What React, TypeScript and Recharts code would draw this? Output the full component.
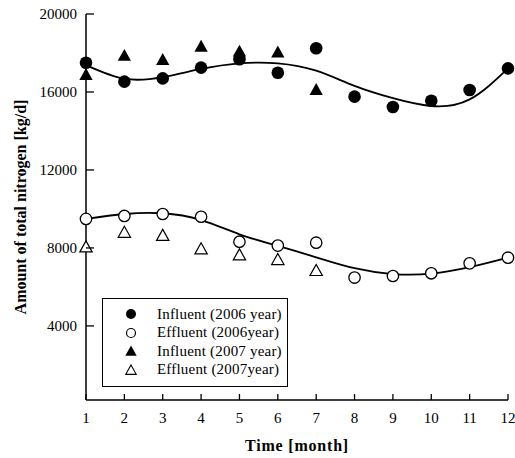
import React from "react";
import { ComposedChart, Scatter, Line, XAxis, YAxis, Legend } from "recharts";

// Total nitrogen load per month [kg/d]
const months = [1, 2, 3, 4, 5, 6, 7, 8, 9, 10, 11, 12];
const inf2006 = [17500, 16530, 16700, 17250, 17680, 16990, 18240, 15760, 15230, 15550, 16100, 17210];
const eff2006 = [9490, 9640, 9740, 9600, 8320, 8120, 8270, 6480, 6560, 6700, 7210, 7500];
const inf2007 = [16870, 17850, 17640, 18320, 18070, 18020, 16100];
const eff2007 = [8030, 8780, 8620, 7930, 7620, 7380, 6820];
// fitted trend curves
const infTrend = [17380, 16680, 16760, 17180, 17470, 17470, 17090, 16310, 15680, 15280, 15620, 17210];
const effTrend = [9490, 9740, 9780, 9430, 8700, 8100, 7520, 6960, 6660, 6680, 7010, 7500];

const yTicks = [4000, 8000, 12000, 16000, 20000];

const FONT = "'Liberation Serif', 'Times New Roman', serif";

const toPoints = (vals: number[]) => vals.map((v, i) => ({ month: months[i], value: v }));

const FilledCircle = (p: any) => <circle cx={p.cx} cy={p.cy} r={6.3} fill="#000" />;
const OpenCircle = (p: any) => (
  <circle cx={p.cx} cy={p.cy} r={5.7} fill="#fff" stroke="#000" strokeWidth={1.3} />
);
const tri = (cx: number, cy: number, s: number) =>
  `${cx},${cy - s} ${cx + s * 0.95},${cy + s * 0.7} ${cx - s * 0.95},${cy + s * 0.7}`;
const FilledTriangle = (p: any) => <polygon points={tri(p.cx, p.cy, 7)} fill="#000" />;
const OpenTriangle = (p: any) => (
  <polygon points={tri(p.cx, p.cy, 6.5)} fill="#fff" stroke="#000" strokeWidth={1.2} />
);

const YTick = (props: any) => {
  const { x, y, payload } = props;
  return (
    <g>
      <line x1={x + 9} x2={x + 17} y1={y} y2={y} stroke="#000" strokeWidth={1.3} />
      <text x={x} y={y} textAnchor="end" dominantBaseline="central" fontSize={15} fontFamily={FONT} fill="#000">
        {payload.value}
      </text>
    </g>
  );
};

const XTick = (props: any) => {
  const { x, y, payload } = props;
  return (
    <g>
      <line x1={x} x2={x} y1={y - 12} y2={y - 18} stroke="#000" strokeWidth={1.3} />
      <text x={x} y={y} dy="0.71em" textAnchor="middle" fontSize={15} fontFamily={FONT} fill="#000">
        {payload.value}
      </text>
    </g>
  );
};

const legendItems = [
  { label: "Influent (2006 year)", kind: "fc" },
  { label: "Effluent (2006year)", kind: "oc" },
  { label: "Influent (2007 year)", kind: "ft" },
  { label: "Effluent (2007year)", kind: "ot" },
];

const LegendIcon = ({ kind }: { kind: string }) => (
  <svg width={14} height={14} style={{ display: "block" }}>
    {kind === "fc" && <circle cx={7} cy={7} r={5} fill="#000" />}
    {kind === "oc" && <circle cx={7} cy={7} r={4.5} fill="#fff" stroke="#000" strokeWidth={1.2} />}
    {kind === "ft" && <polygon points={tri(7, 7.5, 6)} fill="#000" />}
    {kind === "ot" && <polygon points={tri(7, 7.5, 5.5)} fill="#fff" stroke="#000" strokeWidth={1.1} />}
  </svg>
);

const LegendBox = () => (
  <div
    style={{
      border: "1.5px solid #000",
      background: "#fff",
      padding: "6px 0 7px 0",
      boxSizing: "border-box",
      width: 186,
      fontFamily: FONT,
      fontSize: 15,
    }}
  >
    {legendItems.map((it) => (
      <div key={it.label} style={{ display: "flex", alignItems: "center", height: 18.5 }}>
        <div style={{ width: 20, marginLeft: 18, display: "flex", justifyContent: "center" }}>
          <LegendIcon kind={it.kind} />
        </div>
        <span style={{ marginLeft: 16, letterSpacing: 0.2, whiteSpace: "nowrap" }}>{it.label}</span>
      </div>
    ))}
  </div>
);

export default function App() {
  return (
    <div style={{ position: "absolute", left: 0, top: 0, background: "#fff" }}>
      <ComposedChart width={515} height={458} margin={{ top: 14, right: 7, left: 0, bottom: 0 }}>
        <XAxis
          dataKey="month"
          type="number"
          domain={[1, 12]}
          ticks={months}
          interval={0}
          height={58}
          tickSize={0}
          tickMargin={12}
          tickLine={false}
          axisLine={{ stroke: "#000", strokeWidth: 1.5 }}
          tick={<XTick />}
          label={{
            value: "Time [month]",
            position: "insideBottom",
            offset: 7,
            style: { fontSize: 16, fontWeight: "bold", fontFamily: FONT, fill: "#000", letterSpacing: 0.8 },
          }}
        />
        <XAxis
          xAxisId="top"
          orientation="top"
          type="number"
          domain={[1, 12]}
          height={0}
          tick={false}
          tickLine={false}
          axisLine={{ stroke: "#000", strokeWidth: 1.5 }}
        />
        <YAxis
          dataKey="value"
          type="number"
          domain={[200, 20000]}
          ticks={yTicks}
          interval={0}
          width={86}
          tickSize={0}
          tickMargin={9}
          tickLine={false}
          axisLine={{ stroke: "#000", strokeWidth: 1.5 }}
          tick={<YTick />}
          label={{
            value: "Amount of total nitrogen  [kg/d]",
            angle: -90,
            position: "insideLeft",
            offset: 20,
            style: { fontSize: 16, fontWeight: "bold", fontFamily: FONT, fill: "#000", textAnchor: "middle", whiteSpace: "pre" },
          }}
        />
        <YAxis
          yAxisId="right"
          orientation="right"
          type="number"
          domain={[200, 20000]}
          width={0}
          tick={false}
          tickLine={false}
          axisLine={{ stroke: "#000", strokeWidth: 1.5 }}
        />
        <Line data={toPoints(infTrend)} dataKey="value" type="natural" stroke="#000" strokeWidth={1.8} dot={false} isAnimationActive={false} legendType="none" />
        <Line data={toPoints(effTrend)} dataKey="value" type="natural" stroke="#000" strokeWidth={1.8} dot={false} isAnimationActive={false} legendType="none" />
        <Scatter data={toPoints(inf2007)} dataKey="value" shape={FilledTriangle} isAnimationActive={false} />
        <Scatter data={toPoints(eff2007)} dataKey="value" shape={OpenTriangle} isAnimationActive={false} />
        <Scatter data={toPoints(inf2006)} dataKey="value" shape={FilledCircle} isAnimationActive={false} />
        <Scatter data={toPoints(eff2006)} dataKey="value" shape={OpenCircle} isAnimationActive={false} />
        <Legend
          layout="vertical"
          align="center"
          verticalAlign="middle"
          content={<LegendBox />}
          wrapperStyle={{ left: 102, top: 298, width: 186 }}
        />
      </ComposedChart>
    </div>
  );
}
